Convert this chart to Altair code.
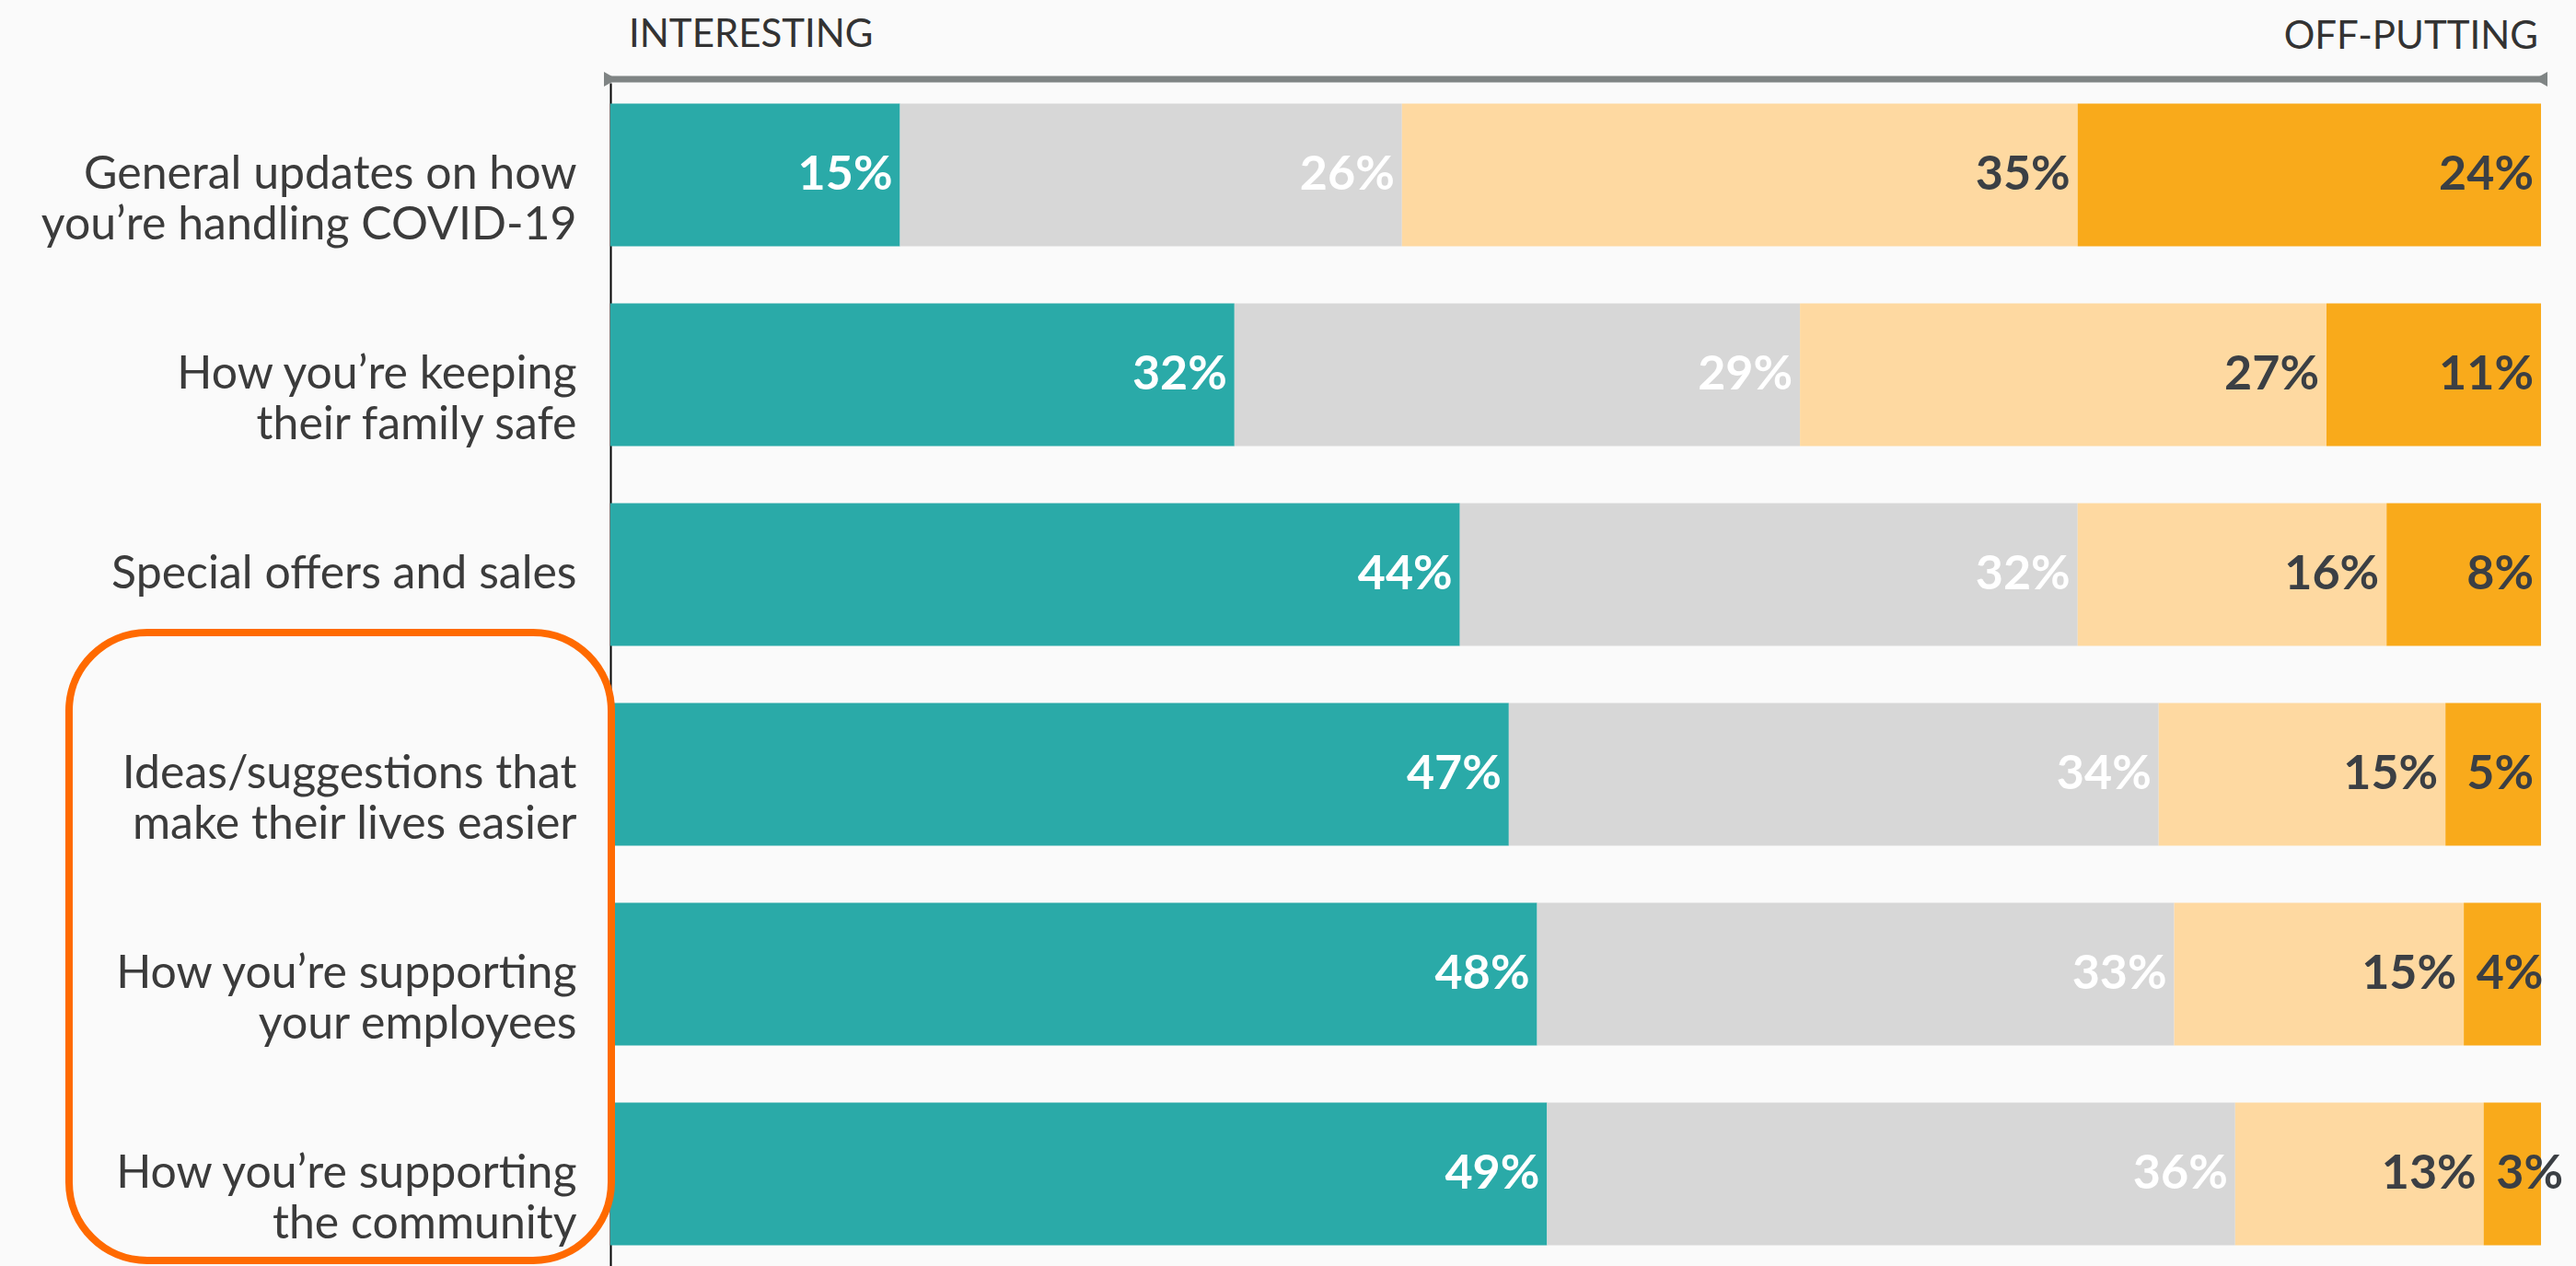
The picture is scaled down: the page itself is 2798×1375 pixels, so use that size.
import altair as alt
import pandas as pd

# ---- data ----
line1 = ["General updates on how", "How you’re keeping", "Special offers and sales",
         "Ideas/suggestions that", "How you’re supporting", "How you’re supporting"]
line2 = ["you’re handling COVID-19", "their family safe", "",
         "make their lives easier", "your employees", "the community"]
levels = ["Very interesting", "Somewhat interesting", "Somewhat off-putting", "Very off-putting"]
very_interesting = [15, 32, 44, 47, 48, 49]
somewhat_interesting = [26, 29, 32, 34, 33, 36]
somewhat_off_putting = [35, 27, 16, 15, 15, 13]
very_off_putting = [24, 11, 8, 5, 4, 3]
scale_ends = ["INTERESTING", "OFF-PUTTING"]

bar_colors = ["#2aaaa8", "#d7d7d7", "#fed9a1", "#f9aa1b"]
text_colors = ["#ffffff", "#ffffff", "#3b3f44", "#3b3f44"]

items = [a + ("\n" + b if b else "") for a, b in zip(line1, line2)]
series = [very_interesting, somewhat_interesting, somewhat_off_putting, very_off_putting]

rows = []
for i, item in enumerate(items):
    for k, lvl in enumerate(levels):
        rows.append({"item": item, "level": lvl, "order": k, "value": series[k][i]})
df = pd.DataFrame(rows)

FONT = "Lato"

y_enc = alt.Y(
    "item:N",
    sort=items,
    scale=alt.Scale(paddingInner=0.2857, paddingOuter=0.104),
    axis=alt.Axis(
        title=None,
        labelExpr="split(datum.label, '\\n')",
        labelFont=FONT,
        labelFontSize=50,
        labelColor="#3b3b3b",
        labelPadding=37,
        labelLineHeight=55,
        labelLimit=900,
        ticks=False,
        domain=True,
        domainColor="#000000",
        domainWidth=2,
        grid=False,
    ),
)

base = alt.Chart(df).transform_stack(
    stack="value",
    groupby=["item"],
    sort=[alt.SortField("order")],
    as_=["x0", "x1"],
    offset="normalize",
).transform_calculate(
    label="datum.value + '%'",
    # narrow end segments: keep the label from overlapping its neighbour
    xlab="max(datum.x1, datum.x0 + 0.045)",
)

bars = base.mark_bar().encode(
    y=y_enc,
    x=alt.X("x0:Q", scale=alt.Scale(domain=[0, 1], nice=False, zero=False), axis=None),
    x2="x1:Q",
    color=alt.Color("level:N", scale=alt.Scale(domain=levels, range=bar_colors), legend=None),
)

labels = base.mark_text(
    align="right", baseline="middle", dx=-8, font=FONT, fontSize=52, fontWeight="bold"
).encode(
    y=alt.Y("item:N", sort=items),
    x="xlab:Q",
    text="label:N",
    color=alt.Color("level:N", scale=alt.Scale(domain=levels, range=text_colors), legend=None),
)

arrow = alt.Chart(pd.DataFrame({"start": [0], "end": [1]})).mark_rule(
    strokeWidth=7, color="#7f8484"
).encode(x="start:Q", x2="end:Q", y=alt.value(-4))

caps = alt.Chart(pd.DataFrame({"pos": [0, 1], "shape": ["triangle-right", "triangle-left"]})).mark_point(
    filled=True, color="#7f8484", size=260, opacity=1
).encode(
    x="pos:Q",
    y=alt.value(-4),
    shape=alt.Shape("shape:N", scale=None, legend=None),
)

left_head = alt.Chart(pd.DataFrame({"pos": [0], "t": [scale_ends[0]]})).mark_text(
    align="left", baseline="middle", dx=20, font=FONT, fontSize=42, color="#333333"
).encode(x="pos:Q", y=alt.value(-52), text="t:N")

right_head = alt.Chart(pd.DataFrame({"pos": [1], "t": [scale_ends[1]]})).mark_text(
    align="right", baseline="middle", dx=-3, font=FONT, fontSize=42, color="#333333"
).encode(x="pos:Q", y=alt.value(-50), text="t:N")

box = alt.Chart(pd.DataFrame({"a": [0]})).mark_rect(
    fillOpacity=0, stroke="#ff6a00", strokeWidth=8, cornerRadius=85
).encode(x=alt.value(-588), x2=alt.value(1), y=alt.value(597), y2=alt.value(1279))

chart = alt.layer(bars, labels, arrow, caps, left_head, right_head, box).resolve_scale(
    color="independent"
).properties(
    width=2097,
    height=1285,
    padding={"left": 663, "top": 90, "right": 38, "bottom": 0},
    autosize=alt.AutoSizeParams(type="none"),
    background="#fafafa",
).configure_view(stroke=None)

chart.save("out.html", embed_options={"renderer": "svg", "actions": False})
